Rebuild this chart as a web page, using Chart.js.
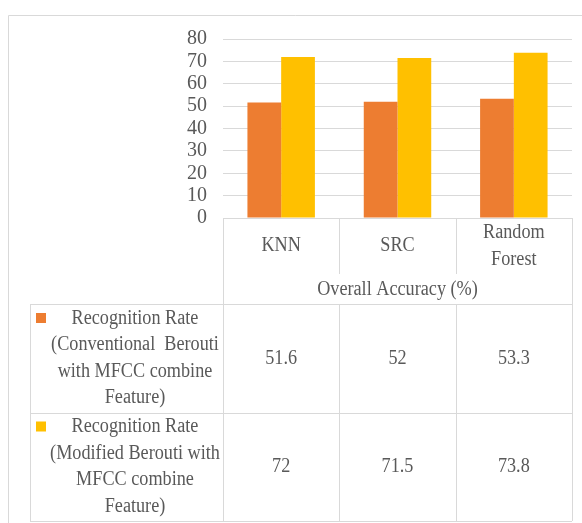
<!DOCTYPE html>
<html>
<head>
<meta charset="utf-8">
<script src="https://cdn.jsdelivr.net/npm/chart.js@4/dist/chart.umd.min.js"></script>
<style>
  html, body { margin: 0; padding: 0; background: #ffffff; }
  #wrap { width: 582px; height: 523px; }
</style>
</head>
<body>
<div id="wrap"><canvas id="chart" width="582" height="523"></canvas></div>
<script>
// Classifiers compared
const categories = ['KNN', 'SRC', 'Random Forest'];
const categoryLines = [['KNN'], ['SRC'], ['Random', 'Forest']];

// Overall accuracy (%) per classifier
const conventional = [51.6, 52, 53.3];
const modified = [72, 71.5, 73.8];

// Series names as written in the data table
const seriesLines = [
  ['Recognition Rate', '(Conventional  Berouti', 'with MFCC combine', 'Feature)'],
  ['Recognition Rate', '(Modified Berouti with', 'MFCC combine', 'Feature)']
];
const seriesNames = seriesLines.map(l => l.join(' '));

// Y axis range and step
const yMin = 0, yMax = 80, yStep = 10;
const axisTitle = 'Overall Accuracy (%)';

const colors = ['#ED7D31', '#FFC000'];
const textColor = '#595959';
const lineColor = '#D9D9D9';
const fontFamily = '"Liberation Serif", "Times New Roman", serif';
const fontSize = 20;
const squeeze = 0.91; // narrow serif lettering in the table

// Draws the outer frame and the data table beneath the plot
const dataTablePlugin = {
  id: 'dataTable',
  beforeDraw(chart) {
    const ctx = chart.ctx;
    ctx.save();
    ctx.strokeStyle = lineColor;
    ctx.lineWidth = 1;
    ctx.beginPath();
    ctx.moveTo(8.5, chart.height);
    ctx.lineTo(8.5, 15.5);
    ctx.lineTo(chart.width, 15.5);
    ctx.stroke();
    ctx.restore();
  },
  afterDraw(chart) {
    const ctx = chart.ctx;
    const a = chart.chartArea;
    const x = chart.scales.x;
    const n = categories.length;
    const centers = categories.map((_, i) => x.getPixelForValue(i));
    const edges = [a.left];
    for (let i = 1; i < n; i++) edges.push((centers[i - 1] + centers[i]) / 2);
    edges.push(a.right);

    const headTop = a.bottom;
    const headBottom = headTop + 56;
    const titleBottom = headTop + 86;
    const rowH = 108.5;
    const tableLeft = 30;
    const rows = [conventional, modified];
    const tableBottom = titleBottom + rowH * rows.length;

    const px = v => Math.round(v) + 0.5;

    ctx.save();
    ctx.strokeStyle = lineColor;
    ctx.lineWidth = 1;
    ctx.beginPath();
    // header row
    ctx.moveTo(a.left, px(headTop)); ctx.lineTo(a.right, px(headTop));
    for (let i = 1; i < n; i++) {
      ctx.moveTo(px(edges[i]), headTop); ctx.lineTo(px(edges[i]), headBottom);
    }
    ctx.moveTo(px(a.left), headTop); ctx.lineTo(px(a.left), tableBottom);
    ctx.moveTo(px(a.right), headTop); ctx.lineTo(px(a.right), tableBottom);
    // body rows
    for (let r = 0; r <= rows.length; r++) {
      const y = px(titleBottom + r * rowH);
      ctx.moveTo(tableLeft, y); ctx.lineTo(a.right, y);
    }
    ctx.moveTo(px(tableLeft), titleBottom); ctx.lineTo(px(tableLeft), tableBottom);
    for (let i = 1; i < n; i++) {
      ctx.moveTo(px(edges[i]), titleBottom); ctx.lineTo(px(edges[i]), tableBottom);
    }
    ctx.stroke();

    ctx.fillStyle = textColor;
    ctx.font = fontSize + 'px ' + fontFamily;
    ctx.textAlign = 'center';
    ctx.textBaseline = 'middle';
    const lh = 26.5;
    const text = (t, cx, cy) => {
      ctx.save();
      ctx.translate(cx, cy);
      ctx.scale(squeeze, 1);
      ctx.fillText(t, 0, 0);
      ctx.restore();
    };

    // category labels
    categoryLines.forEach((lines, i) => {
      const cy = (headTop + headBottom) / 2;
      lines.forEach((t, k) => {
        text(t, centers[i], cy + (k - (lines.length - 1) / 2) * lh);
      });
    });
    // axis title
    text(axisTitle, (a.left + a.right) / 2, (headBottom + titleBottom) / 2 + 1);

    // series rows
    rows.forEach((vals, r) => {
      const top = titleBottom + r * rowH;
      const cy = top + rowH / 2;
      ctx.fillStyle = colors[r];
      ctx.fillRect(36, top + 9, 10, 10);
      ctx.fillStyle = textColor;
      const tx = (46 + a.left) / 2 + 0.5;
      const lines = seriesLines[r];
      lines.forEach((t, k) => {
        text(t, tx, cy + (k - (lines.length - 1) / 2) * lh);
      });
      vals.forEach((v, i) => text(String(v), centers[i], cy));
    });
    ctx.restore();
  }
};

new Chart(document.getElementById('chart'), {
  type: 'bar',
  data: {
    labels: categories,
    datasets: [
      { label: seriesNames[0], data: conventional, backgroundColor: colors[0] },
      { label: seriesNames[1], data: modified, backgroundColor: colors[1] }
    ]
  },
  options: {
    responsive: false,
    devicePixelRatio: 1,
    animation: false,
    layout: { padding: { left: 8, right: 10, top: 39, bottom: 305 } },
    datasets: { bar: { categoryPercentage: 0.58, barPercentage: 1.0 } },
    plugins: { legend: { display: false }, tooltip: { enabled: false } },
    scales: {
      x: { display: false },
      y: {
        min: yMin, max: yMax,
        afterFit(s) { s.width = 215; },
        border: { display: false },
        grid: { color: lineColor, drawTicks: false, lineWidth: 1 },
        ticks: {
          stepSize: yStep,
          autoSkip: false,
          padding: 16,
          color: textColor,
          font: { family: fontFamily, size: 20, lineHeight: 1 }
        }
      }
    }
  },
  plugins: [dataTablePlugin]
});
</script>
</body>
</html>
